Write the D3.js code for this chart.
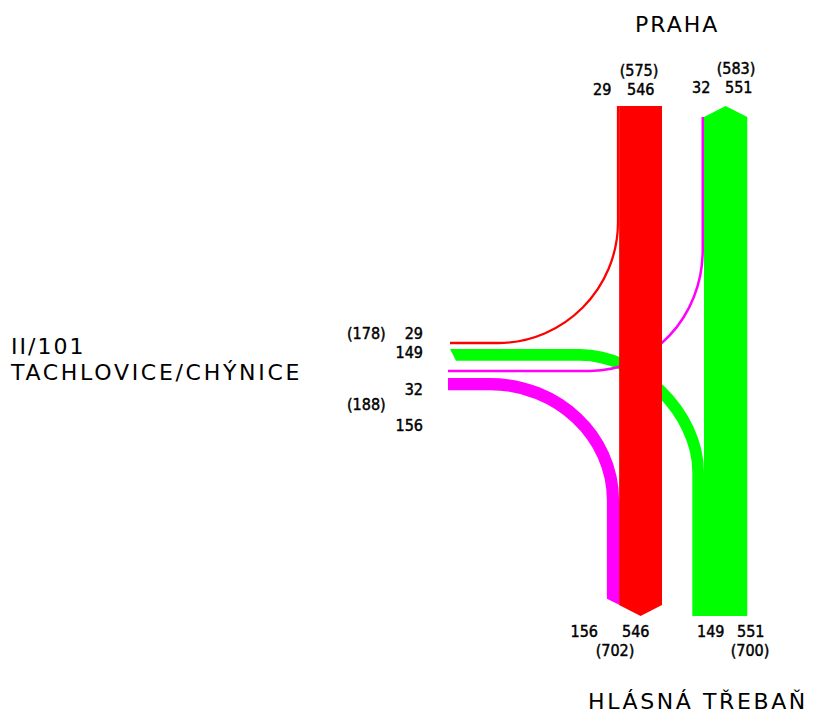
<!DOCTYPE html>
<html>
<head>
<meta charset="utf-8">
<script src="https://cdn.jsdelivr.net/npm/d3@7"></script>
<style>
  html, body { margin: 0; padding: 0; background: #fff; }
  svg { display: block; }
  .big { font-family: "DejaVu Sans", sans-serif; font-size: 22px; fill: #000; }
  .num { font-family: "DejaVu Sans Condensed", "DejaVu Sans", sans-serif; font-size: 16px; fill: #000; stroke: #000; stroke-width: 0.45px; }
</style>
</head>
<body>
<svg id="chart" width="813" height="716"></svg>
<script>
// ---- data ----
const places = ["PRAHA", "TACHLOVICE/CHÝNICE", "HLÁSNÁ TŘEBAŇ"];
const roadName = "II/101";
const flowKeys = ["P-H", "P-T", "H-P", "H-T", "T-P", "T-H"];
const flowOrigins = ["PRAHA", "PRAHA", "HLÁSNÁ TŘEBAŇ", "HLÁSNÁ TŘEBAŇ", "TACHLOVICE/CHÝNICE", "TACHLOVICE/CHÝNICE"];
const flowDestinations = ["HLÁSNÁ TŘEBAŇ", "TACHLOVICE/CHÝNICE", "PRAHA", "TACHLOVICE/CHÝNICE", "PRAHA", "HLÁSNÁ TŘEBAŇ"];
const flowVolumes = [546, 29, 551, 149, 32, 156];
const flowColors = ["#ff0000", "#ff0000", "#00ff00", "#00ff00", "#ff00ff", "#ff00ff"];

const vol = {};
flowKeys.forEach((k, i) => vol[k] = flowVolumes[i]);
const col = {};
flowKeys.forEach((k, i) => col[k] = flowColors[i]);

const svg = d3.select("#chart");
const w = d3.scaleLinear().domain([0, 100]).range([0, 7.85]);

// ---- layout ----
const redRight = 662, greenLeft = 704;
const topY = 106, topG = 117, botY = 616, chev = 11;
const k = 0.55;

const rx0 = redRight - w(vol["P-H"]);
const r29c = rx0 - w(vol["P-T"]) / 2;
const m156c = rx0 - w(vol["T-H"]) / 2;
const m156l = rx0 - w(vol["T-H"]);
const gR = greenLeft + w(vol["H-P"]);
const m32c = greenLeft - w(vol["T-P"]) / 2;
const g149c = greenLeft - w(vol["H-T"]) / 2;

const yG149top = 349;
const yG149c = yG149top + w(vol["H-T"]) / 2;
const yM156c = 378 + w(vol["T-H"]) / 2;

function strokePath(d, key) {
  svg.append("path").attr("d", d).attr("fill", "none")
    .attr("stroke", col[key]).attr("stroke-width", w(vol[key]))
    .attr("stroke-linecap", "butt");
}

// green 149
{
  const x0 = 580, y1 = 472;
  const rxx = g149c - x0, ryy = y1 - yG149c;
  const p = d3.path();
  p.moveTo(456, yG149c); p.lineTo(x0, yG149c);
  p.bezierCurveTo(x0 + 0.5 * rxx, yG149c, g149c, y1 - 0.5 * ryy, g149c, y1);
  p.lineTo(g149c, botY);
  strokePath(p.toString(), "H-T");
  const yb = yG149top + w(vol["H-T"]);
  svg.append("path").attr("d", d3.line()([[450, yG149top], [456.5, yG149top], [456.5, yb], [456, yb]]) + "Z")
    .attr("fill", col["H-T"]);
}

// magenta 32
{
  const y0 = 250, xh = 590, yh = 371;
  const rxx = m32c - xh, ryy = yh - y0;
  const p = d3.path();
  p.moveTo(m32c, topG); p.lineTo(m32c, y0);
  p.bezierCurveTo(m32c, y0 + k * ryy, xh + k * rxx, yh, xh, yh);
  p.lineTo(448, yh);
  strokePath(p.toString(), "T-P");
}

// magenta 156
{
  const x0 = 490, y1 = 500;
  const rxx = m156c - x0, ryy = y1 - yM156c;
  const p = d3.path();
  p.moveTo(448, yM156c); p.lineTo(x0, yM156c);
  p.bezierCurveTo(x0 + k * rxx, yM156c, m156c, y1 - k * ryy, m156c, y1 + 0.5);
  strokePath(p.toString(), "T-H");
  const half = w(vol["P-H"]) / 2;
  const slope = chev / half;
  svg.append("path").attr("d", d3.line()([
    [m156l, y1], [rx0 + 0.5, y1], [rx0 + 0.5, botY - chev],
    [m156l, botY - chev - (rx0 - m156l) * slope]
  ]) + "Z").attr("fill", col["T-H"]);
}

// green 551
svg.append("path").attr("d", d3.line()([
  [greenLeft, topG], [(greenLeft + gR) / 2, topY], [gR, topG], [gR, botY], [greenLeft, botY]
]) + "Z").attr("fill", col["H-P"]);

// red 29
{
  const y0 = 222, xh = 498, yh = 343;
  const rxx = r29c - xh, ryy = yh - y0;
  const p = d3.path();
  p.moveTo(r29c, topY); p.lineTo(r29c, y0);
  p.bezierCurveTo(r29c, y0 + k * ryy, xh + k * rxx, yh, xh, yh);
  p.lineTo(450, yh);
  strokePath(p.toString(), "P-T");
}

// red 546
svg.append("path").attr("d", d3.line()([
  [rx0, topY], [redRight, topY], [redRight, botY - chev], [(rx0 + redRight) / 2, botY], [rx0, botY - chev]
]) + "Z").attr("fill", col["P-H"]);

// ---- labels ----
const sumIn = dest => d3.sum(flowVolumes.filter((v, i) => flowDestinations[i] === dest));
const sumOut = orig => d3.sum(flowVolumes.filter((v, i) => flowOrigins[i] === orig));

function txt(s, x, y, cls, anchor, ls) {
  const t = svg.append("text").attr("x", x).attr("y", y).attr("class", cls)
    .attr("text-anchor", anchor || "start").text(s);
  if (ls) t.attr("letter-spacing", ls);
  return t;
}

txt(places[0], 635, 32, "big", "start", 2);
txt(roadName, 11, 354, "big", "start", 2);
txt(places[1], 11, 380, "big", "start", 2.7);
txt(places[2], 588, 709, "big", "start", 2.6);

// Praha side
txt("(" + sumOut("PRAHA") + ")", 639, 76, "num", "middle");
txt(vol["P-T"], 593, 95, "num");
txt(vol["P-H"], 627, 95, "num");
txt("(" + sumIn("PRAHA") + ")", 736, 74, "num", "middle");
txt(vol["T-P"], 692, 93, "num");
txt(vol["H-P"], 725, 93, "num");

// Tachlovice side
txt("(" + sumIn("TACHLOVICE/CHÝNICE") + ")", 347, 339, "num");
txt(vol["P-T"], 423, 339, "num", "end");
txt(vol["H-T"], 423, 358, "num", "end");
txt(vol["T-P"], 423, 395, "num", "end");
txt("(" + sumOut("TACHLOVICE/CHÝNICE") + ")", 347, 410, "num");
txt(vol["T-H"], 423, 431, "num", "end");

// Hlásná Třebaň side
txt(vol["T-H"], 598, 637, "num", "end");
txt(vol["P-H"], 622, 637, "num");
txt("(" + sumIn("HLÁSNÁ TŘEBAŇ") + ")", 615, 656, "num", "middle");
txt(vol["H-T"], 697, 637, "num");
txt(vol["H-P"], 737, 637, "num");
txt("(" + sumOut("HLÁSNÁ TŘEBAŇ") + ")", 750, 656, "num", "middle");
</script>
</body>
</html>
